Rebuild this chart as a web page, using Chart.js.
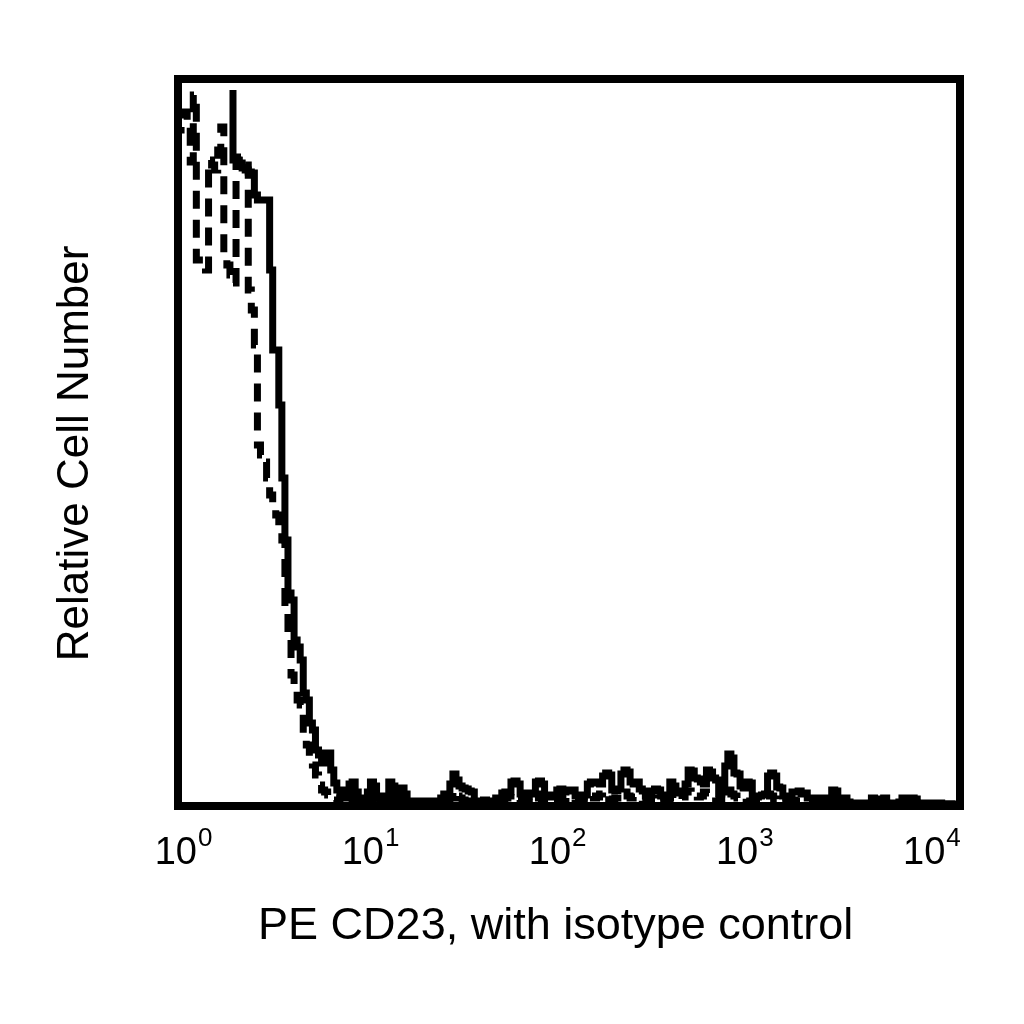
<!DOCTYPE html>
<html>
<head>
<meta charset="utf-8">
<title>PE CD23 histogram</title>
<script src="https://cdn.jsdelivr.net/npm/chart.js@4.4.1/dist/chart.umd.min.js"></script>
<style>
  html, body { margin: 0; padding: 0; background: #fff; }
  canvas { display: block; }
</style>
</head>
<body>
<canvas id="histChart" width="1024" height="1024"></canvas>
<script>
// log-channel histogram, 256 channels spanning 4 decades (64 per decade)
const decadeChannels = [0, 64, 128, 192, 256];
const decadeExponents = ['0', '1', '2', '3', '4'];
const xTitle = 'PE CD23, with isotype control';
const yTitle = 'Relative Cell Number';

// PE CD23 (solid)
const cd23Counts = [
  null, null, null, null, null, null, null, null, null, null, null, null, null, null, null, null,
  null, null, 716, 646, 646, 643, 638, 636, 634, 633, 611, 606, 606, 606, 606, 536,
  456, 456, 401, 328, 266, 213, 206, 166, 159, 146, 113, 106, 83, 76, 56, 51,
  43, 53, 53, 36, 23, 16, 9, 16, 8, 22, 24, 14, 5, 8, 5, 14,
  24, 20, 8, 4, 10, 6, 24, 20, 6, 14, 18, 12, 4, 5, 4, 5,
  5, 4, 5, 5, 4, 5, 5, 8, 12, 10, 22, 32, 26, 20, 18, 17,
  15, 14, 5, 5, 4, 6, 4, 5, 4, 8, 6, 13, 14, 14, 24, 25,
  22, 12, 13, 10, 13, 12, 24, 25, 22, 10, 11, 9, 11, 16, 17, 14,
  16, 15, 16, 10, 11, 9, 11, 22, 24, 23, 24, 22, 30, 33, 31, 16,
  15, 17, 32, 36, 34, 24, 22, 24, 17, 15, 10, 9, 15, 17, 16, 10,
  9, 11, 24, 20, 14, 13, 15, 22, 36, 35, 28, 27, 24, 22, 36, 34,
  28, 26, 12, 14, 40, 52, 48, 33, 32, 20, 18, 24, 23, 10, 9, 10,
  11, 12, 30, 33, 30, 19, 18, 10, 8, 8, 14, 14, 15, 12, 13, 8,
  8, 7, 8, 6, 8, 7, 7, 16, 15, 8, 7, 8, 4, 3, 2, 3,
  2, 3, 2, 3, 8, 7, 4, 7, 8, 2, 3, 2, 3, 4, 8, 7,
  4, 8, 7, 2, 3, 2, 2, 3, 2, 2, 3, 2, 2, 2, 2, 2
];

// isotype control (dashed)
const isotypeCounts = [
  548, 676, 691, 694, 686, 644, 711, 546, 541, 538, 536, 646, 641, 636, 656, 679,
  546, 541, 531, 523, 646, 649, 648, 641, 516, 496, 461, 361, 351, 344, 328, 311,
  301, 291, 276, 266, 196, 166, 131, 116, 106, 101, 66, 61, 46, 41, 31, 21,
  16, 14, 11, 9, 6, 4, 8, 5, 3, 9, 7, 4, 3, 5, 4, 6,
  8, 6, 3, 4, 5, 3, 7, 6, 4, 5, 7, 4, 3, 3, 2, 3,
  3, 2, 3, 3, 2, 3, 4, 5, 6, 4, 8, 14, 10, 8, 6, 5,
  4, 3, 3, 2, 3, 3, 2, 3, 4, 3, 5, 6, 8, 10, 12, 9,
  6, 5, 4, 6, 7, 10, 12, 8, 5, 4, 5, 4, 6, 8, 7, 6,
  8, 7, 6, 5, 4, 6, 9, 12, 10, 8, 9, 12, 14, 12, 7, 6,
  8, 12, 15, 14, 10, 8, 9, 7, 6, 5, 4, 6, 8, 7, 5, 4,
  5, 6, 9, 8, 6, 6, 9, 14, 15, 12, 10, 9, 10, 14, 13, 11,
  9, 6, 6, 14, 18, 16, 12, 10, 8, 9, 8, 5, 4, 4, 5, 5,
  6, 10, 12, 10, 7, 6, 4, 4, 5, 6, 6, 5, 5, 4, 3, 3,
  3, 3, 3, 2, 3, 3, 6, 5, 3, 3, 3, 2, 2, 2, 2, 2,
  2, 2, 2, 2, 3, 3, 2, 3, 3, 2, 2, 2, 2, 2, 3, 3,
  2, 3, 3, 2, 2, 2, 2, 2, 2, 2, 2, 2, 2, 2, 2, 2
];

const countMax = 727;
const fontFamily = '"Liberation Sans", Arial, Helvetica, sans-serif';

// each channel value holds until the next channel; last one closes at the end
function toSteps(counts) {
  const pts = counts.map((c, i) => ({ x: i, y: c }));
  pts.push({ x: counts.length, y: counts[counts.length - 1] });
  return pts;
}

// black frame round the plot area
const frameBox = {
  id: 'frameBox',
  afterDatasetsDraw(chart) {
    const { ctx, chartArea: a } = chart;
    ctx.save();
    ctx.strokeStyle = '#000';
    ctx.lineWidth = 8;
    ctx.strokeRect(a.left, a.top, a.right - a.left, a.bottom - a.top);
    ctx.restore();
  }
};

// decade labels (10 with raised exponent) and the two axis titles
const labelSpread = 0.957;
const labelShift = 5;
const axisText = {
  id: 'axisText',
  afterDraw(chart) {
    const { ctx, chartArea: a } = chart;
    const xs = chart.scales.x;
    ctx.save();
    ctx.fillStyle = '#000';
    ctx.textBaseline = 'alphabetic';
    ctx.textAlign = 'left';
    decadeChannels.forEach((ch, i) => {
      const px = xs.getPixelForValue(ch);
      const center = a.left + labelShift + (px - a.left) * labelSpread;
      ctx.font = '38px ' + fontFamily;
      const wBase = ctx.measureText('10').width;
      ctx.font = '26px ' + fontFamily;
      const wExp = ctx.measureText(decadeExponents[i]).width;
      const start = center - (wBase + wExp) / 2;
      ctx.font = '38px ' + fontFamily;
      ctx.fillText('10', start, a.bottom + 58);
      ctx.font = '26px ' + fontFamily;
      ctx.fillText(decadeExponents[i], start + wBase + 1, a.bottom + 40);
    });

    ctx.textAlign = 'center';
    ctx.font = '45px ' + fontFamily;
    ctx.fillText(xTitle, a.left + (a.right - a.left) * 0.483, a.bottom + 133);

    ctx.translate(a.left - 90, a.top + (a.bottom - a.top) * 0.515);
    ctx.rotate(-Math.PI / 2);
    ctx.font = '44px ' + fontFamily;
    ctx.fillText(yTitle, 0, 0);
    ctx.restore();
  }
};

const ctx = document.getElementById('histChart').getContext('2d');
new Chart(ctx, {
  type: 'line',
  data: {
    datasets: [{
      label: 'PE CD23',
      data: toSteps(cd23Counts),
      stepped: 'after',
      borderColor: '#000',
      borderWidth: 7,
      pointRadius: 0,
      fill: false
    }, {
      label: 'Isotype control',
      data: toSteps(isotypeCounts),
      stepped: 'after',
      borderColor: '#000',
      borderWidth: 7,
      borderDash: [18, 11],
      pointRadius: 0,
      fill: false
    }]
  },
  options: {
    responsive: false,
    devicePixelRatio: 1,
    animation: false,
    layout: {
      padding: { left: 178, right: 64, top: 79, bottom: 218 }
    },
    plugins: {
      legend: { display: false },
      tooltip: { enabled: false }
    },
    scales: {
      x: { type: 'linear', min: 0, max: 256, display: false },
      y: { min: 0, max: countMax, display: false }
    }
  },
  plugins: [frameBox, axisText]
});
</script>
</body>
</html>
